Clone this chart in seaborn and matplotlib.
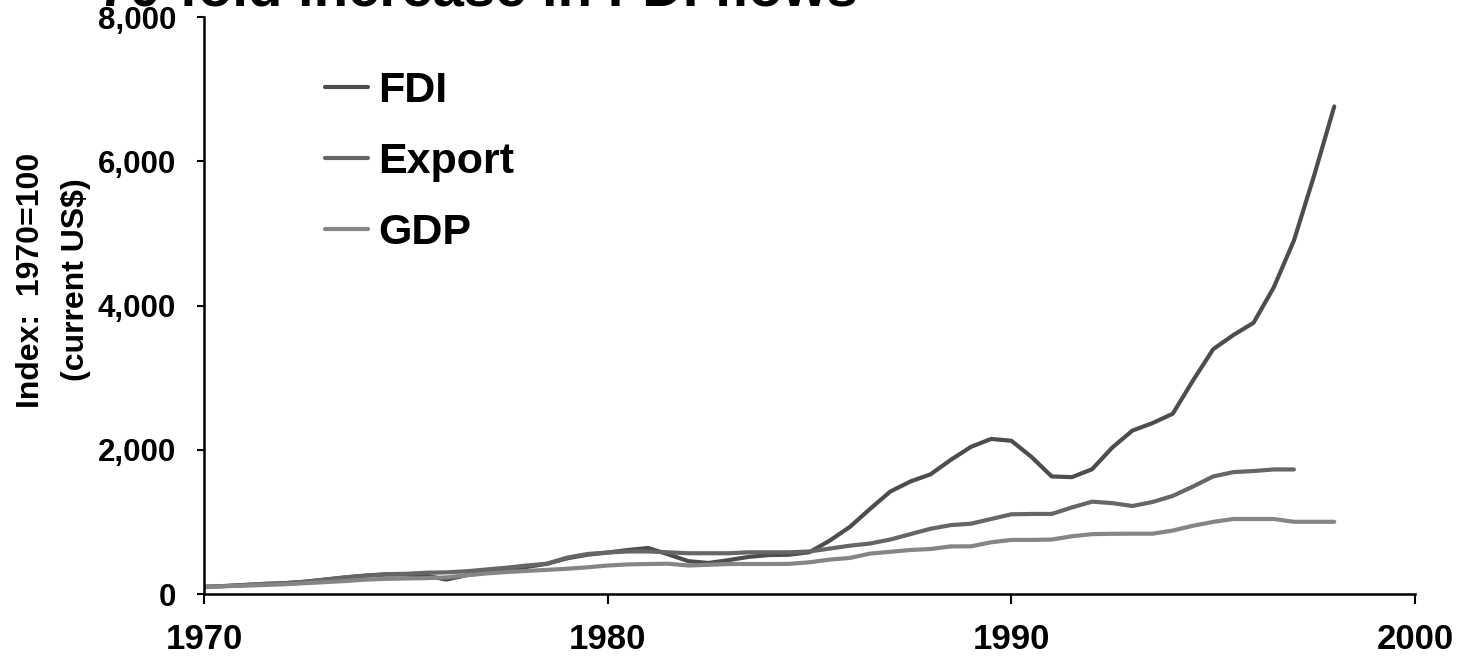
import numpy as np
import pandas as pd
import matplotlib
matplotlib.use("Agg")
import matplotlib.pyplot as plt
import seaborn as sns
from matplotlib.ticker import FuncFormatter

# half-year points (index, 1970 = 100)
years = [1970, 1970.5, 1971, 1971.5, 1972, 1972.5, 1973, 1973.5, 1974, 1974.5,
         1975, 1975.5, 1976, 1976.5, 1977, 1977.5, 1978, 1978.5, 1979, 1979.5,
         1980, 1980.5, 1981, 1981.5, 1982, 1982.5, 1983, 1983.5, 1984, 1984.5,
         1985, 1985.5, 1986, 1986.5, 1987, 1987.5, 1988, 1988.5, 1989, 1989.5,
         1990, 1990.5, 1991, 1991.5, 1992, 1992.5, 1993, 1993.5, 1994, 1994.5,
         1995, 1995.5, 1996, 1996.5, 1997, 1997.5, 1998]

fdi = [100, 110, 125, 140, 150, 170, 200, 230, 255, 270,
       270, 255, 200, 260, 300, 340, 375, 420, 495, 545,
       575, 610, 638, 550, 455, 430, 470, 515, 540, 545,
       580, 740, 930, 1180, 1420, 1560, 1660, 1860, 2040, 2150,
       2125, 1900, 1630, 1620, 1730, 2030, 2266, 2370, 2500, 2960,
       3394, 3590, 3760, 4250, 4900, 5800, 6760]

export = [100, 110, 125, 140, 150, 170, 200, 230, 255, 275,
          280, 295, 300, 315, 340, 365, 395, 420, 505, 555,
          575, 590, 590, 578, 565, 565, 565, 578, 578, 578,
          590, 630, 670, 700, 755, 830, 905, 955, 975, 1040,
          1105, 1110, 1110, 1200, 1280, 1260, 1220, 1276, 1360, 1490,
          1630, 1690, 1705, 1727, 1727]

gdp = [100, 108, 115, 125, 135, 150, 165, 180, 200, 210,
       215, 220, 230, 260, 285, 305, 320, 335, 350, 370,
       395, 410, 416, 420, 395, 405, 416, 416, 416, 418,
       440, 477, 500, 560, 585, 610, 624, 660, 661, 717,
       750, 750, 755, 800, 830, 835, 836, 836, 880, 946,
       1000, 1040, 1040, 1040, 1001, 1001, 1001]

series = [("FDI", fdi, "#4d4d4d"), ("Export", export, "#666666"), ("GDP", gdp, "#858585")]

sns.set_style("ticks")
plt.rcParams["font.family"] = ["Liberation Sans", "DejaVu Sans"]
plt.rcParams["font.weight"] = "bold"
for k in ["text.color", "axes.labelcolor", "xtick.color", "ytick.color"]:
    plt.rcParams[k] = "black"

fig = plt.figure(figsize=(14.57, 6.57), dpi=100)
ax = fig.add_axes([204 / 1457, 1 - 594 / 657, 1211 / 1457, 577 / 657])

for name, vals, col in series:
    sns.lineplot(x=years[:len(vals)], y=vals, ax=ax, color=col, lw=3, label=name)

ax.set_xlim(1970, 2000)
ax.set_ylim(0, 8000)
ax.set_xticks([1970, 1980, 1990, 2000])
ax.set_yticks([0, 2000, 4000, 6000, 8000])
ax.yaxis.set_major_formatter(FuncFormatter(lambda v, p: f"{int(v):,}"))

for s in ["top", "right"]:
    ax.spines[s].set_visible(False)
for s in ["left", "bottom"]:
    ax.spines[s].set_linewidth(1.8)
    ax.spines[s].set_color("black")

ax.tick_params(axis="y", length=5, width=1.5, pad=15, labelsize=22.5)
ax.tick_params(axis="x", length=7, width=1.5, pad=14, labelsize=25)
for lab in ax.get_xticklabels() + ax.get_yticklabels():
    lab.set_fontweight("bold")

ax.set_xlabel("")
ax.set_ylabel("Index:  1970=100\n(current US$)", fontsize=23, fontweight="bold",
              linespacing=1.65)
ax.yaxis.set_label_coords(-0.0935, 0.544)

leg = ax.legend(loc="upper left", bbox_to_anchor=(0.068, 0.974), frameon=False,
                fontsize=31, handlelength=1.0, handletextpad=0.23, labelspacing=0.72)
for t in leg.get_texts():
    t.set_fontweight("bold")

fig.text(98 / 1457, 1 - 5 / 657, "70-fold increase in FDI flows", fontsize=40.5,
         fontweight="bold", ha="left", va="baseline")

fig.savefig("out.png", dpi=100)
